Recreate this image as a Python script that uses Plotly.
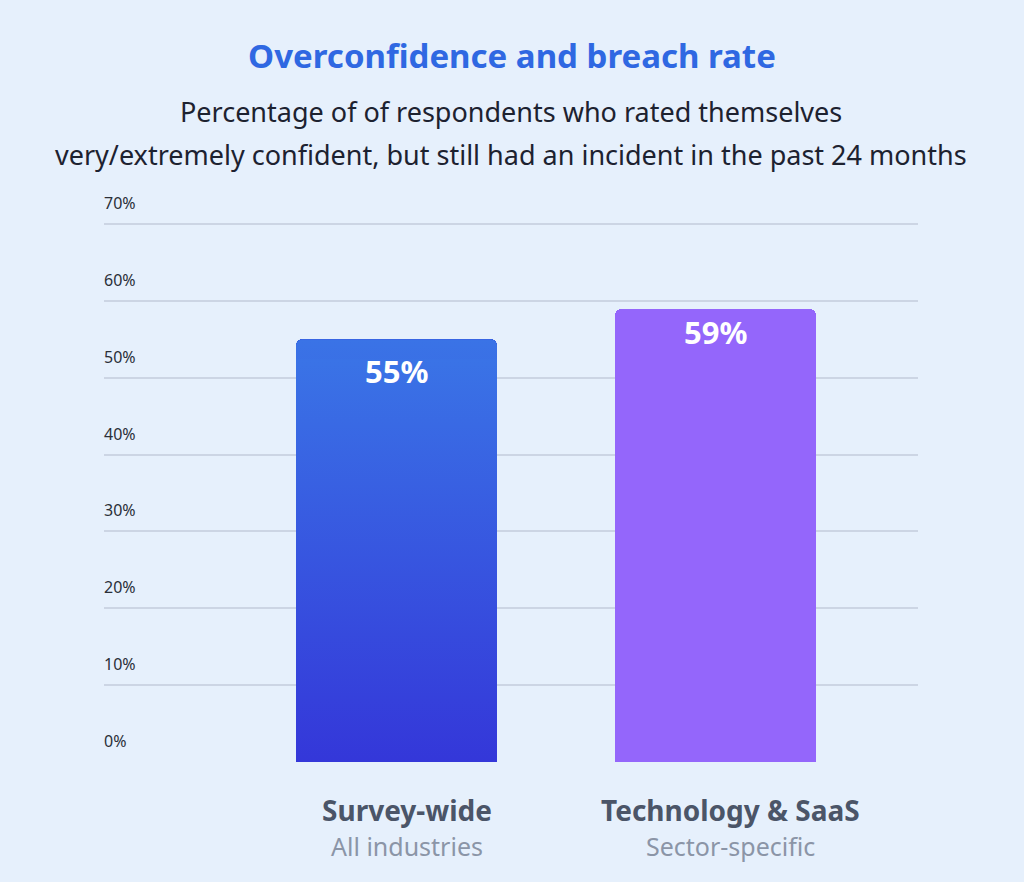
import plotly.graph_objects as go

categories = ["Survey-wide", "Technology & SaaS"]
subtitles = ["All industries", "Sector-specific"]
values = [55, 59]
value_labels = ["55%", "59%"]
bar_colors = ["#3553df", "#9466fb"]
y_ticks = [0, 10, 20, 30, 40, 50, 60, 70]
y_tick_labels = ["0%", "10%", "20%", "30%", "40%", "50%", "60%", "70%"]

FONT = "Noto Sans"
xpos = list(range(len(categories)))
BAR_W = 0.63

PLOT_TOP = 198
PLOT_BOTTOM = 762
PX_PER_UNIT = (762 - 224) / 70.0
H = PLOT_BOTTOM - PLOT_TOP


def py(px):
    return (PLOT_BOTTOM - px) / H


fig = go.Figure()
fig.add_trace(go.Bar(
    x=xpos, y=values, width=BAR_W,
    marker=dict(color=bar_colors, cornerradius=6, line=dict(width=0)),
    hoverinfo="skip",
))

# vertical gradient overlay for the first bar
grad_svg = (
    "data:image/svg+xml;utf8,"
    "<svg xmlns='http://www.w3.org/2000/svg' width='200' height='420' "
    "viewBox='0 0 200 420' preserveAspectRatio='none'>"
    "<defs><linearGradient id='g' x1='0' y1='0' x2='0' y2='1'>"
    "<stop offset='0' stop-color='%233a73e6'/>"
    "<stop offset='1' stop-color='%233437d9'/>"
    "</linearGradient></defs>"
    "<rect x='0' y='0' width='200' height='420' rx='6' ry='6' fill='url(%23g)'/>"
    "<rect x='0' y='20' width='200' height='400' fill='url(%23g)'/>"
    "</svg>"
)
fig.add_layout_image(
    source=grad_svg, xref="x", yref="y",
    x=xpos[0] - BAR_W / 2, y=values[0], sizex=BAR_W, sizey=values[0],
    xanchor="left", yanchor="top", sizing="stretch", layer="above",
)

label_shift = [-9, 0]
for i, (v, lab) in enumerate(zip(values, value_labels)):
    fig.add_annotation(x=xpos[i], y=v, xref="x", yref="y", text=f"<b>{lab}</b>",
                       showarrow=False, yanchor="top", yshift=label_shift[i],
                       font=dict(family=FONT, size=31, color="white"))

cat_shift = [11, 15]
for i, (c, s) in enumerate(zip(categories, subtitles)):
    fig.add_annotation(x=xpos[i], y=0, xref="x", yref="y", text=f"<b>{c}</b>",
                       showarrow=False, yanchor="middle", yshift=-48, xshift=cat_shift[i],
                       font=dict(family=FONT, size=28, color="#4b5568"))
    fig.add_annotation(x=xpos[i], y=0, xref="x", yref="y", text=s,
                       showarrow=False, yanchor="middle", yshift=-84, xshift=cat_shift[i],
                       font=dict(family=FONT, size=25, color="#8b95a7"))

for t, lab in zip(y_ticks, y_tick_labels):
    fig.add_annotation(x=0, xref="paper", y=t, yref="y", text=lab,
                       showarrow=False, xanchor="left", yanchor="middle",
                       xshift=-2, yshift=21,
                       font=dict(family=FONT, size=16, color="#2b2f38"))

fig.update_layout(
    width=1024, height=882,
    paper_bgcolor="#e6f0fc", plot_bgcolor="#e6f0fc",
    margin=dict(l=104, r=106, t=PLOT_TOP, b=882 - PLOT_BOTTOM),
    showlegend=False,
    bargap=0,
    title=dict(
        text="<b>Overconfidence and breach rate</b>",
        x=0.5, xanchor="center", y=1 - 56 / 882, yanchor="middle",
        font=dict(family=FONT, size=33, color="#2f68e2"),
    ),
    xaxis=dict(range=[-0.917, 1.635], showgrid=False, zeroline=False,
               showticklabels=False, ticks="", fixedrange=True),
    yaxis=dict(range=[0, 70 + (224 - PLOT_TOP) / PX_PER_UNIT],
               tickvals=y_ticks, showticklabels=False, ticks="",
               showgrid=True, gridcolor="#ccd5e4", gridwidth=2,
               zeroline=False, showline=False, fixedrange=True),
)

fig.add_annotation(x=0.5, xref="paper", y=py(112), yref="paper",
                   yanchor="middle", showarrow=False,
                   text="Percentage of of respondents who rated themselves",
                   font=dict(family=FONT, size=27, color="#1d2230"))
fig.add_annotation(x=0.5, xref="paper", y=py(154), yref="paper",
                   yanchor="middle", showarrow=False,
                   text="very/extremely confident, but still had an incident in the past 24 months",
                   font=dict(family=FONT, size=27, color="#1d2230"))

fig.write_html("out.html", config={"displayModeBar": False},
               post_script="document.body.style.margin='0';")
